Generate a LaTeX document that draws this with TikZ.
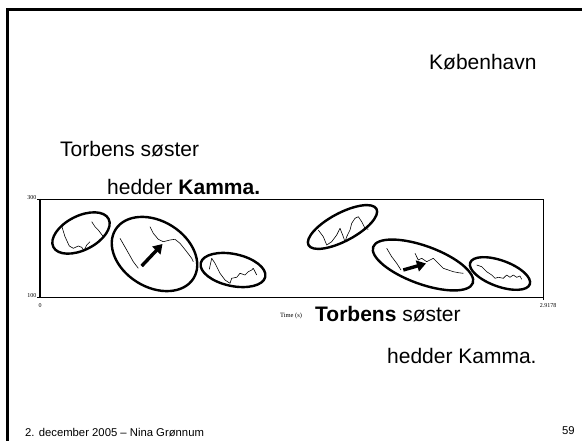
\documentclass[tikz,border=0pt]{standalone}
\usepackage{fontspec}
\setmainfont{Liberation Sans}
\newfontfamily\axisfont{Liberation Serif}
\usetikzlibrary{arrows.meta}
\begin{document}
\begin{tikzpicture}[x=1pt,y=-1pt,
  big/.style={font=\fontsize{21}{24}\selectfont, inner sep=0pt, anchor=base west},
  foot/.style={font=\fontsize{11.3}{13}\selectfont, inner sep=0pt, anchor=base west},
  axlab/.style={font=\axisfont\fontsize{6}{7}\selectfont, inner sep=0.5pt},
  ring/.style={line width=2.4pt},
  pitch/.style={line width=0.6pt, line join=round},
  bigarrow/.style={line width=3.4pt, -{Triangle[length=9pt,width=11pt]}},
  frame/.style={line width=2.8pt}]
\useasboundingbox (0,0) rectangle (582,441);
% slide frame
\draw[frame] (7.5,441) -- (7.5,9.5) -- (582,9.5);
% texts
\node[big] (kbh) at (429,70) {København};
\node[big] (t1) at (60,157) {Torbens søster};
\node[big] (t2) at (107,195) {hedder \textbf{Kamma.}};
\node[big] (t3) at (315,322) {\textbf{Torbens} søster};
\node[big] (t4) at (387,363) {hedder Kamma.};
\node[foot] (foot) at (25,436) {2. december 2005 – Nina Grønnum};
\node[foot] (pg) at (562,434) {59};
% plot box
\draw[line width=0.8pt] (40,199) rectangle (543,297);
\draw[line width=1.4pt] (40,199) -- (40,297);
\draw[line width=0.8pt] (37,199) -- (40,199) (37,297) -- (40,297) (543,297) -- (543,300);
\node[axlab, anchor=east] (y300) at (37,198) {300};
\node[axlab, anchor=east] (y100) at (37,296) {100};
\node[axlab] (x0) at (40,306) {0};
\node[axlab] (xend) at (548,306) {2.9178};
\node[axlab, font=\axisfont\fontsize{6.5}{7}\selectfont] (xlab) at (291,316) {Time (s)};
% ellipses
\draw[ring, rotate around={27:(81,233)}] (81,233) ellipse [x radius=31, y radius=17];
\draw[ring, rotate around={-32:(154.5,254)}] (154.5,254) ellipse [x radius=46, y radius=33];
\draw[ring, rotate around={-12:(233,270)}] (233,270) ellipse [x radius=33, y radius=16];
\draw[ring, rotate around={28:(342.5,227)}] (342.5,227) ellipse [x radius=38.5, y radius=14];
\draw[ring, rotate around={-20:(423,265)}] (423,265) ellipse [x radius=53, y radius=19];
\draw[ring, rotate around={-20:(500,273.5)}] (500,273.5) ellipse [x radius=31.7, y radius=13];
% pitch traces
\draw[pitch] (61.7,226) -- (65,236.7) -- (69.3,246) -- (73.3,248.3) -- (78.3,246) -- (81.7,247.3) -- (84,250.7) -- (86.7,245) -- (90,241.7);
\draw[pitch] (91.7,221.7) -- (95,226.7) -- (98.3,230) -- (103.3,236.7);
\draw[pitch] (120,238.3) -- (126.7,250) -- (133.3,261.7) -- (138.3,268.3);
\draw[pitch] (150,226.7) -- (153.3,233.3) -- (158.3,239.3) -- (163.3,241.7) -- (170,240) -- (175,239.3) -- (180,243.3) -- (186.7,251.7) -- (191.7,258.3) -- (193.3,261.7);
\draw[pitch] (209.3,269.3) -- (211.7,258.3) -- (215,263.3) -- (220,273.3) -- (225,280) -- (230,283.3) -- (231.7,278.3) -- (236.7,277.3) -- (240,273.3) -- (245,275) -- (248.3,271.7) -- (251.7,270) -- (253.3,268.3) -- (256.7,275);
\draw[pitch] (318.3,230) -- (323.3,236.7) -- (326.7,245) -- (331.7,241.7) -- (336.7,235) -- (340,228.3) -- (343.3,236.7) -- (345,241.7) -- (346.7,236.7) -- (350,230) -- (351.7,223.3) -- (355,218.3) -- (358.3,216.7) -- (361.7,221.7) -- (365,228.3) -- (368.3,229.3);
\draw[pitch] (386.7,248.3) -- (391.7,256.7) -- (396.7,263.3) -- (401,270);
\draw[pitch] (415,253.3) -- (418.3,260) -- (421.7,258.3) -- (426.7,261.7) -- (430,260) -- (433.3,258.3) -- (436.7,261.7) -- (440,265) -- (443.3,268.3) -- (448.3,270) -- (453.3,271.7) -- (458.3,272.7) -- (463.3,273.3);
\draw[pitch] (476.7,265) -- (481.7,266.7) -- (486.7,271.7) -- (491.7,275) -- (495,278.3) -- (498.3,277.3) -- (503.3,278.3) -- (506.7,275) -- (510,277.3) -- (513.3,275) -- (516.7,277.3) -- (520,276) -- (521.7,279.3);
% arrows
\coordinate (a1s) at (141.7,266);
\coordinate (a1e) at (162.5,244);
\coordinate (a2s) at (403.3,270);
\coordinate (a2e) at (426,263.5);
\draw[bigarrow] (a1s) -- (a1e);
\draw[bigarrow] (a2s) -- (a2e);
\end{tikzpicture}
\end{document}
